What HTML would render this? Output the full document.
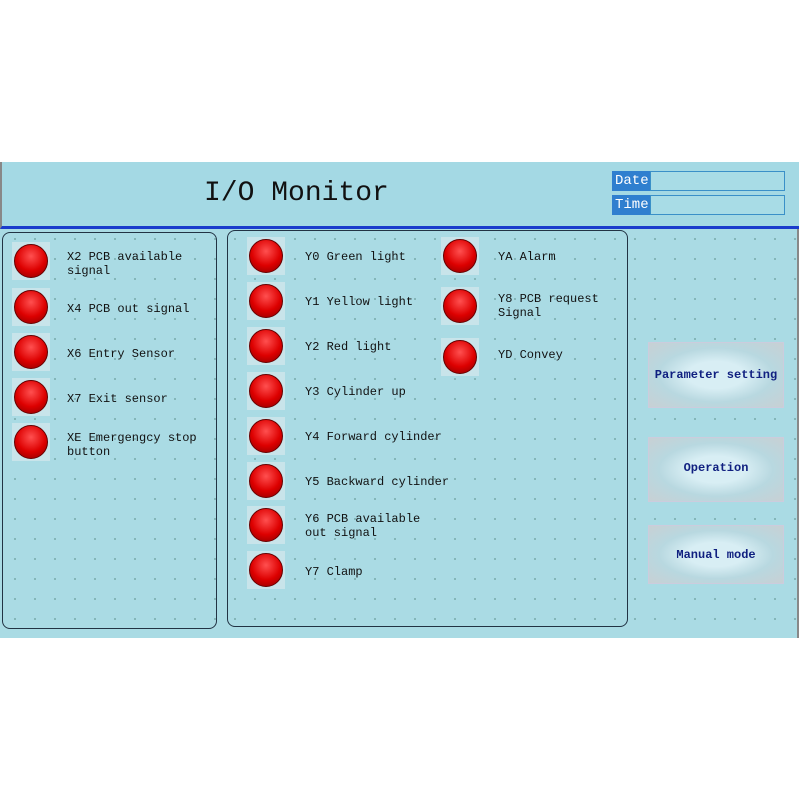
<!DOCTYPE html>
<html><head><style>
body{margin:0;width:800px;height:800px;background:#fff;position:relative;overflow:hidden;font-family:"Liberation Mono","DejaVu Sans Mono",monospace}
.scr{position:absolute;left:0;top:162px;width:797px;height:476px;background:#aadbe4;border-right:2px solid #888;
background-image:radial-gradient(circle,#7aa 0.8px,transparent 1px);background-size:20px 20px;background-position:5px 7px}
.hdr{position:absolute;left:0;top:162px;width:797px;height:64px;background:#a4d9e4;border-bottom:3px solid #1a3ccc;border-left:2px solid #888}
.title{position:absolute;left:204px;top:178px;font-family:"Liberation Mono",monospace;font-size:28px;color:#111}
.box{position:absolute;border:1px solid #234;border-radius:8px}
.lamp{position:absolute;width:38px;height:38px;background:#c8e4ea}
.lamp i{position:absolute;left:2px;top:2px;width:34px;height:34px;border-radius:50%;background:radial-gradient(circle at 50% 35%,#ff5050,#d00 55%,#800 100%);border:1px solid #600;box-sizing:border-box}
.t{position:absolute;font-size:12px;line-height:14px;color:#111;white-space:pre}
.lbl{position:absolute;left:612px;width:38px;height:20px;background:#2f7fcf;color:#fff;font-size:14px;line-height:20px;padding-left:3px;box-sizing:border-box}
.fld{position:absolute;left:650px;width:135px;height:20px;border:1px solid #3a90c8;box-sizing:border-box;background:#a8dce6}
.btn{position:absolute;left:648px;width:134px;background:radial-gradient(ellipse at 50% 50%,#d8eef4 30%,#b8d8e0 60%,#c8d0d4 100%);border:1px solid #ccd;color:#102080;font-weight:bold;font-size:12px;text-align:center}
</style></head><body>
<div class="scr"></div>
<div class="hdr"></div>
<div class="title">I/O Monitor</div>
<div class="lbl" style="top:171px">Date</div><div class="fld" style="top:171px"></div>
<div class="lbl" style="top:195px">Time</div><div class="fld" style="top:195px"></div>
<div class="box" style="left:2px;top:232px;width:213px;height:395px"></div>
<div class="box" style="left:227px;top:230px;width:399px;height:395px"></div>

<div class="lamp" style="left:12px;top:242px"><i></i></div><div class="t" style="left:67px;top:250px">X2 PCB available
signal</div>
<div class="lamp" style="left:12px;top:288px"><i></i></div><div class="t" style="left:67px;top:302px">X4 PCB out signal</div>
<div class="lamp" style="left:12px;top:333px"><i></i></div><div class="t" style="left:67px;top:347px">X6 Entry Sensor</div>
<div class="lamp" style="left:12px;top:378px"><i></i></div><div class="t" style="left:67px;top:392px">X7 Exit sensor</div>
<div class="lamp" style="left:12px;top:423px"><i></i></div><div class="t" style="left:67px;top:431px">XE Emergengcy stop
button</div>

<div class="lamp" style="left:247px;top:237px"><i></i></div><div class="t" style="left:305px;top:250px">Y0 Green light</div>
<div class="lamp" style="left:247px;top:282px"><i></i></div><div class="t" style="left:305px;top:295px">Y1 Yellow light</div>
<div class="lamp" style="left:247px;top:327px"><i></i></div><div class="t" style="left:305px;top:340px">Y2 Red light</div>
<div class="lamp" style="left:247px;top:372px"><i></i></div><div class="t" style="left:305px;top:385px">Y3 Cylinder up</div>
<div class="lamp" style="left:247px;top:417px"><i></i></div><div class="t" style="left:305px;top:430px">Y4 Forward cylinder</div>
<div class="lamp" style="left:247px;top:462px"><i></i></div><div class="t" style="left:305px;top:475px">Y5 Backward cylinder</div>
<div class="lamp" style="left:247px;top:506px"><i></i></div><div class="t" style="left:305px;top:512px">Y6 PCB available
out signal</div>
<div class="lamp" style="left:247px;top:551px"><i></i></div><div class="t" style="left:305px;top:565px">Y7 Clamp</div>

<div class="lamp" style="left:441px;top:237px"><i></i></div><div class="t" style="left:498px;top:250px">YA Alarm</div>
<div class="lamp" style="left:441px;top:287px"><i></i></div><div class="t" style="left:498px;top:292px">Y8 PCB request
Signal</div>
<div class="lamp" style="left:441px;top:338px"><i></i></div><div class="t" style="left:498px;top:348px">YD Convey</div>

<div class="btn" style="top:342px;height:64px;line-height:64px">Parameter setting</div>
<div class="btn" style="top:437px;height:63px;line-height:60px">Operation</div>
<div class="btn" style="top:525px;height:57px;line-height:58px">Manual mode</div>
</body></html>
